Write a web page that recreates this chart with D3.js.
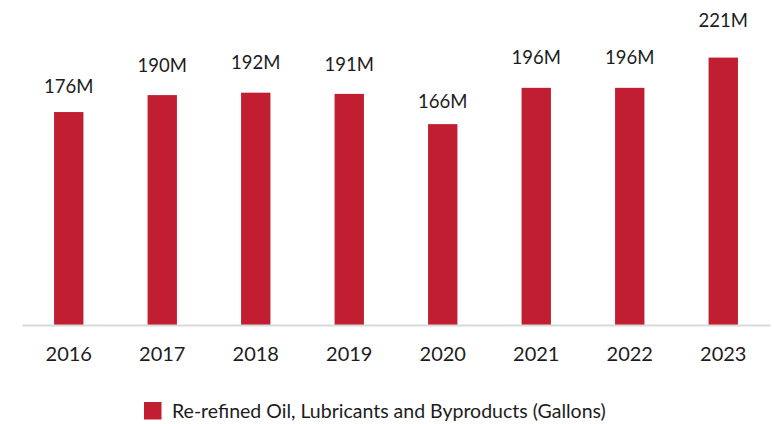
<!DOCTYPE html>
<html>
<head>
<meta charset="utf-8">
<script src="https://cdn.jsdelivr.net/npm/d3@7"></script>
<style>
  html, body { margin: 0; padding: 0; background: #fff; }
  svg { display: block; font-family: Lato, "Open Sans", sans-serif; }
</style>
</head>
<body>
<svg id="chart" width="774" height="424"></svg>
<script>
// Re-refined oil, lubricants and byproducts, millions of gallons per year
const years = ["2016", "2017", "2018", "2019", "2020", "2021", "2022", "2023"];
const gallonsM = [176, 190, 192, 191, 166, 196, 196, 221];
const seriesName = "Re-refined Oil, Lubricants and Byproducts (Gallons)";
const yDomain = [0, 250];

const barColor = "#c11f31";
const textColor = "#1c1c1c";

const svg = d3.select("#chart");

const x = d3.scaleBand()
  .domain(years)
  .range([22, 770])
  .paddingInner(0.686)
  .paddingOuter(0.343);

const y = d3.scaleLinear().domain(yDomain).range([325, 22.5]);

// value labels are spread on a slightly steeper scale than the bars
const yLabel = d3.scaleLinear().domain(yDomain).range([353.3, -16.3]);

const data = years.map((yr, i) => ({ year: yr, value: gallonsM[i] }));

// bars
svg.append("g")
  .selectAll("rect")
  .data(data)
  .join("rect")
  .attr("x", d => x(d.year))
  .attr("y", d => y(d.value))
  .attr("width", x.bandwidth())
  .attr("height", d => y(0) - y(d.value))
  .attr("fill", barColor);

// baseline axis with year ticks
const xAxis = svg.append("g")
  .attr("transform", `translate(0,${y(0)})`)
  .call(d3.axisBottom(x).tickSize(0).tickPadding(22));
xAxis.select(".domain")
  .attr("stroke", "#d9d9d9")
  .attr("stroke-width", 1.8);
xAxis.selectAll(".tick text")
  .attr("fill", textColor)
  .attr("font-size", 20)
  .attr("font-family", "Lato, 'Open Sans', sans-serif");

// value labels
svg.append("g")
  .selectAll("text")
  .data(data)
  .join("text")
  .attr("x", d => x(d.year) + x.bandwidth() / 2)
  .attr("y", d => yLabel(d.value))
  .attr("text-anchor", "middle")
  .attr("fill", textColor)
  .attr("font-size", 18.5)
  .text(d => d.value + "M");

// legend
const legend = svg.append("g").attr("transform", "translate(144,402)");
legend.append("rect")
  .attr("width", 17.5)
  .attr("height", 17.5)
  .attr("fill", barColor);
legend.append("text")
  .attr("x", 28)
  .attr("y", 16.3)
  .attr("fill", textColor)
  .attr("font-size", 19.5)
  .text(seriesName);
</script>
</body>
</html>
